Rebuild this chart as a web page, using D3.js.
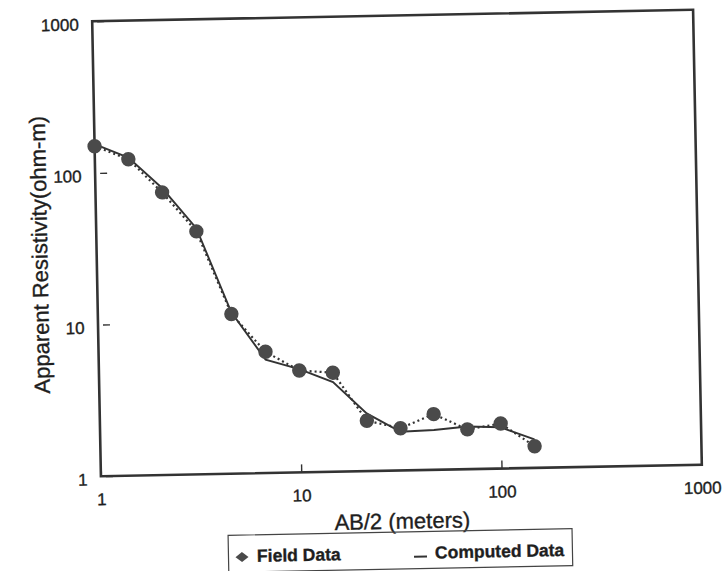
<!DOCTYPE html>
<html lang="en">
<head>
<meta charset="UTF-8">
<title>Apparent Resistivity sounding curve</title>
<script src="https://cdn.jsdelivr.net/npm/d3@7"></script>
<style>
    * { margin: 0; padding: 0; }
    body { background: #fff; }
    text { font-family: "Liberation Sans", Arial, sans-serif; fill: #1e1e1e; stroke: #1e1e1e; stroke-width: 0.35px; }
</style>
</head>
<body>
<script>
    // AB/2 spacing (m) and apparent resistivity (ohm-m)
    const spacing = [1, 1.47, 2.15, 3.16, 4.64, 6.81, 10, 14.7, 21.5, 31.6, 46.4, 68.1, 100, 147];
    const fieldData = [150, 122, 73, 40, 11.3, 6.3, 4.7, 4.5, 2.15, 1.9, 2.33, 1.83, 1.98, 1.39];
    const computedData = [155, 125, 78, 42, 11.6, 5.6, 4.8, 3.9, 2.4, 1.8, 1.83, 1.91, 1.87, 1.54];
    const xTicks = [1, 10, 100, 1000];
    const yTicks = [1, 10, 100, 1000];

    const width = 726, height = 571;
    const margin = { top: 15.5, right: 28.5, bottom: 100.5, left: 96.5 };
    const iw = width - margin.left - margin.right;
    const ih = height - margin.top - margin.bottom;

    const svg = d3.select("body").append("svg").attr("width", width).attr("height", height);

    // the scanned figure sits slightly askew
    const root = svg.append("g").attr("transform", "rotate(-1.1, 397, 243)");
    const g = root.append("g").attr("transform", `translate(${margin.left},${margin.top})`);

    const x = d3.scaleLog().domain([1, 1000]).range([0, iw]);
    const y = d3.scaleLog().domain([1, 1000]).range([ih, 0]);

    // axes
    const xAxis = g.append("g")
        .attr("transform", `translate(0,${ih})`)
        .call(d3.axisBottom(x).tickValues(xTicks).tickFormat(d3.format("d")).tickSize(-8).tickPadding(17));
    xAxis.select(".domain").remove();
    xAxis.selectAll("line").attr("stroke", "#333").attr("stroke-width", 1.4);
    xAxis.selectAll("text").attr("font-size", 17);

    const yAxis = g.append("g")
        .call(d3.axisLeft(y).tickValues(yTicks).tickFormat(d3.format("d")).tickSize(-12).tickPadding(13.5));
    yAxis.select(".domain").remove();
    yAxis.selectAll("line").attr("x1", 5).attr("stroke", "#333").attr("stroke-width", 1.4);
    yAxis.selectAll("text").attr("font-size", 17).attr("dy", "0.5em");

    // plot frame
    g.append("rect")
        .attr("width", iw).attr("height", ih)
        .attr("fill", "none").attr("stroke", "#333").attr("stroke-width", 2.6);

    const pts = (vals) => spacing.map((s, i) => [s, vals[i]]);
    const line = d3.line().x(d => x(d[0])).y(d => y(d[1]));

    g.append("path")
        .attr("d", line(pts(fieldData)))
        .attr("fill", "none").attr("stroke", "#333").attr("stroke-width", 2.2)
        .attr("stroke-dasharray", "2,3");

    g.append("path")
        .attr("d", line(pts(computedData)))
        .attr("fill", "none").attr("stroke", "#333").attr("stroke-width", 1.9);

    g.selectAll("circle")
        .data(pts(fieldData))
        .join("circle")
        .attr("cx", d => x(d[0]))
        .attr("cy", d => y(d[1]))
        .attr("r", 7.2)
        .attr("fill", "#4a4a4a");

    // titles
    root.append("text")
        .attr("x", 397).attr("y", 521).attr("dy", "0.35em")
        .attr("text-anchor", "middle").attr("font-size", 22)
        .text("AB/2 (meters)");

    root.append("text")
        .attr("transform", "translate(39.5,248) rotate(-90)")
        .attr("dy", "0.35em")
        .attr("text-anchor", "middle").attr("font-size", 22)
        .text("Apparent Resistivity(ohm-m)");

    // legend
    const lg = root.append("g");
    lg.append("rect")
        .attr("x", 222.5).attr("y", 532).attr("width", 344).attr("height", 37)
        .attr("fill", "none").attr("stroke", "#444").attr("stroke-width", 1.2);
    lg.append("path")
        .attr("d", d3.symbol(d3.symbolSquare, 50)())
        .attr("transform", "translate(236,554) scale(1.3,1) rotate(45)")
        .attr("fill", "#4a4a4a");
    lg.append("text")
        .attr("x", 251).attr("y", 553).attr("dy", "0.35em")
        .attr("font-size", 17.5).attr("font-weight", "bold")
        .text("Field Data");
    lg.append("line")
        .attr("x1", 408).attr("x2", 421).attr("y1", 557).attr("y2", 557)
        .attr("stroke", "#333").attr("stroke-width", 2);
    lg.append("text")
        .attr("x", 429).attr("y", 553).attr("dy", "0.35em")
        .attr("font-size", 17.5).attr("font-weight", "bold")
        .text("Computed Data");
</script>
</body>
</html>
